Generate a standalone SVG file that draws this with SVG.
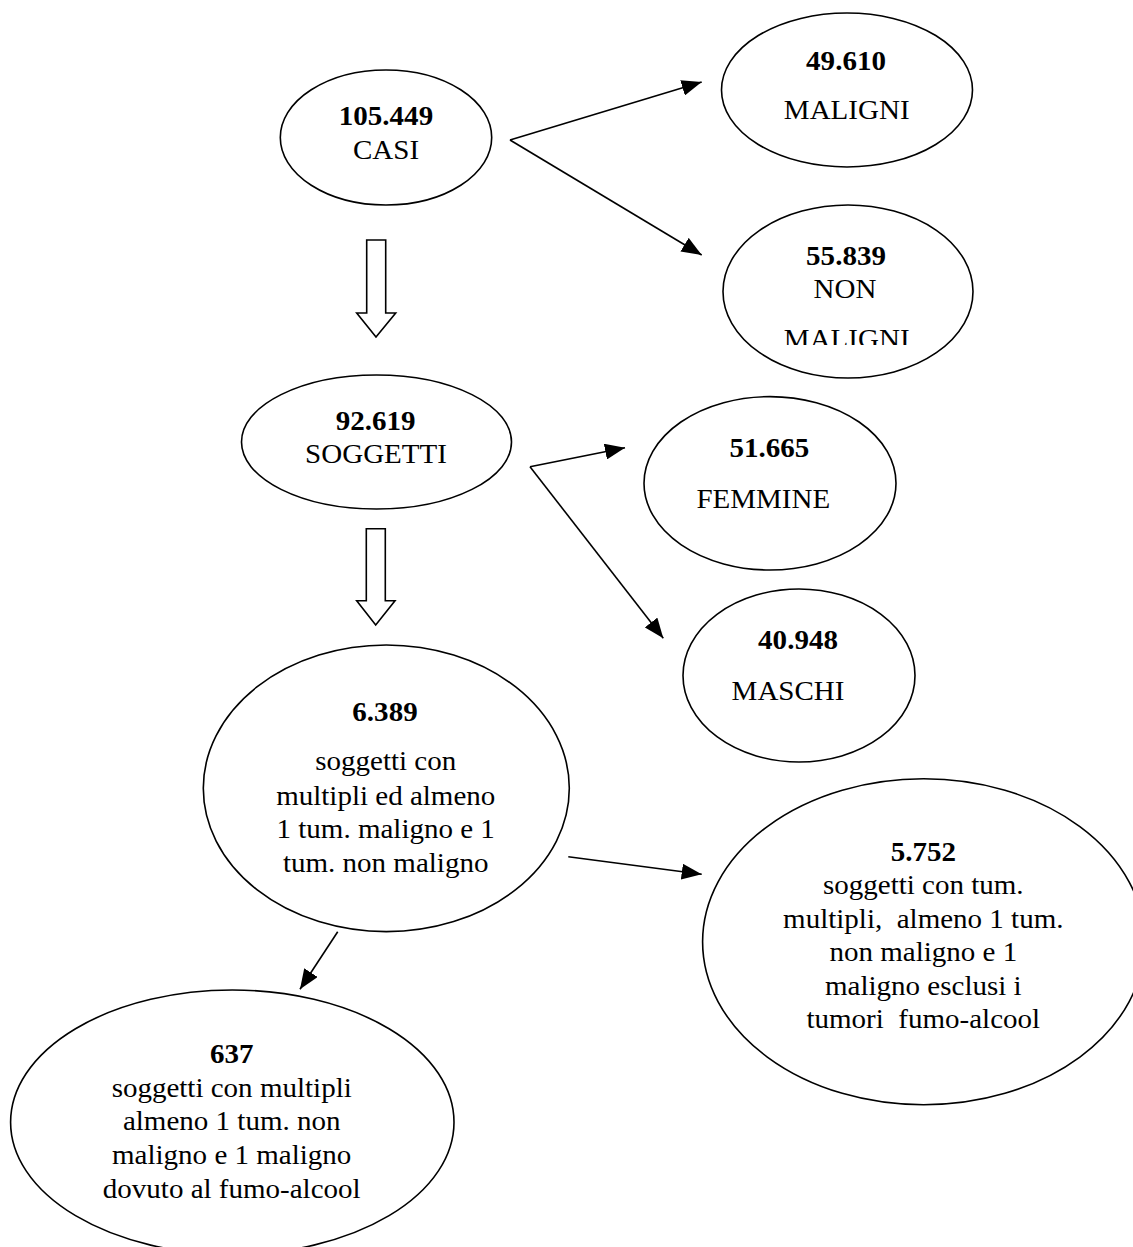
<svg xmlns="http://www.w3.org/2000/svg" width="1133" height="1247" viewBox="0 0 1133 1247">
<style>
.node ellipse{fill:#fff;stroke:#000;stroke-width:1.6}
.t{font-family:"Liberation Serif","Times New Roman",serif;font-size:27px;text-anchor:middle;fill:#000;white-space:pre}
.b{font-weight:bold}
.c{stroke:#000;stroke-width:1.6;fill:none}
.hollow{fill:#fff;stroke:#000;stroke-width:1.6;stroke-linejoin:miter}
</style>
<defs>
<marker id="ah" viewBox="0 0 20 16" refX="20" refY="8" markerWidth="20" markerHeight="16" markerUnits="userSpaceOnUse" orient="auto">
<path d="M0,0 L20,8 L0,16 z" fill="#000"/>
</marker>
<clipPath id="clipNM"><rect x="700" y="200" width="300" height="145"/></clipPath>
</defs>
<rect width="1133" height="1247" fill="#fff"/>

<g id="connectors">
<line class="c" x1="510" y1="140" x2="701.7" y2="82" marker-end="url(#ah)"/>
<line class="c" x1="510" y1="140" x2="701.7" y2="255" marker-end="url(#ah)"/>
<line class="c" x1="530" y1="466.7" x2="625" y2="447.7" marker-end="url(#ah)"/>
<line class="c" x1="530" y1="466.7" x2="663.3" y2="638.3" marker-end="url(#ah)"/>
<line class="c" x1="568.3" y1="856.7" x2="701.7" y2="874.3" marker-end="url(#ah)"/>
<line class="c" x1="337.7" y1="931.7" x2="300" y2="989.3" marker-end="url(#ah)"/>
<polygon class="hollow" points="366.7,240 385.7,240 385.7,313 395.7,313 376,337 356.7,313 366.7,313"/>
<polygon class="hollow" points="366.3,528.7 385.3,528.7 385.3,600.7 395,600.7 375.7,625 356.7,600.7 366.3,600.7"/>
</g>

<g id="casi" class="node">
<ellipse cx="386" cy="137.5" rx="105.7" ry="67.5"/>
<text class="t b" transform="translate(386,125) scale(1.075,1)">105.449</text>
<text class="t" transform="translate(386,159) scale(1.075,1)">CASI</text>
</g>

<g id="maligni" class="node">
<ellipse cx="847" cy="90" rx="125.5" ry="77"/>
<text class="t b" transform="translate(846,70) scale(1.075,1)">49.610</text>
<text class="t" transform="translate(846.7,119) scale(1.075,1)">MALIGNI</text>
</g>

<g id="non-maligni" class="node">
<ellipse cx="848" cy="291.5" rx="125" ry="86.5"/>
<text class="t b" transform="translate(846,265) scale(1.075,1)">55.839</text>
<text class="t" transform="translate(845,298) scale(1.075,1)">NON</text>
<g clip-path="url(#clipNM)">
<text class="t" transform="translate(846.7,347.5) scale(1.075,1)">MALIGNI</text>
</g>
</g>

<g id="soggetti" class="node">
<ellipse cx="376.5" cy="442" rx="135" ry="67"/>
<text class="t b" transform="translate(375.7,430) scale(1.075,1)">92.619</text>
<text class="t" transform="translate(376,462.7) scale(1.075,1)">SOGGETTI</text>
</g>

<g id="femmine" class="node">
<ellipse cx="770" cy="483.3" rx="126" ry="86.7"/>
<text class="t b" transform="translate(769.3,456.7) scale(1.075,1)">51.665</text>
<text class="t" transform="translate(763.3,508.3) scale(1.075,1)">FEMMINE</text>
</g>

<g id="maschi" class="node">
<ellipse cx="799" cy="675.5" rx="116" ry="86.5"/>
<text class="t b" transform="translate(798,649.3) scale(1.075,1)">40.948</text>
<text class="t" transform="translate(788,700) scale(1.075,1)">MASCHI</text>
</g>

<g id="multipli" class="node">
<ellipse cx="386.3" cy="788.3" rx="183" ry="143.3"/>
<text class="t b" transform="translate(385,720.7) scale(1.075,1)">6.389</text>
<text class="t" transform="translate(385.7,770) scale(1.075,1)">soggetti con</text>
<text class="t" transform="translate(385.7,805) scale(1.075,1)">multipli ed almeno</text>
<text class="t" transform="translate(385.7,838.3) scale(1.075,1)">1 tum. maligno e 1</text>
<text class="t" transform="translate(385.7,871.7) scale(1.075,1)">tum. non maligno</text>
</g>

<g id="esclusi" class="node">
<ellipse cx="923.6" cy="941.8" rx="221" ry="163"/>
<text class="t b" transform="translate(923.3,861) scale(1.075,1)">5.752</text>
<text class="t" transform="translate(923.3,894) scale(1.075,1)">soggetti con tum.</text>
<text class="t" xml:space="preserve" transform="translate(923.3,927.5) scale(1.075,1)">multipli,  almeno 1 tum.</text>
<text class="t" transform="translate(923.3,961) scale(1.075,1)">non maligno e 1</text>
<text class="t" transform="translate(923.3,994.5) scale(1.075,1)">maligno esclusi i</text>
<text class="t" xml:space="preserve" transform="translate(923.3,1028) scale(1.075,1)">tumori  fumo-alcool</text>
</g>

<g id="fumo-alcool" class="node">
<ellipse cx="232.3" cy="1122.2" rx="221.7" ry="132.2"/>
<text class="t b" transform="translate(231.7,1063) scale(1.075,1)">637</text>
<text class="t" transform="translate(231.7,1096.7) scale(1.075,1)">soggetti con multipli</text>
<text class="t" transform="translate(231.7,1130) scale(1.075,1)">almeno 1 tum. non</text>
<text class="t" transform="translate(231.7,1163.5) scale(1.075,1)">maligno e 1 maligno</text>
<text class="t" transform="translate(231.7,1197.7) scale(1.075,1)">dovuto al fumo-alcool</text>
</g>
</svg>
